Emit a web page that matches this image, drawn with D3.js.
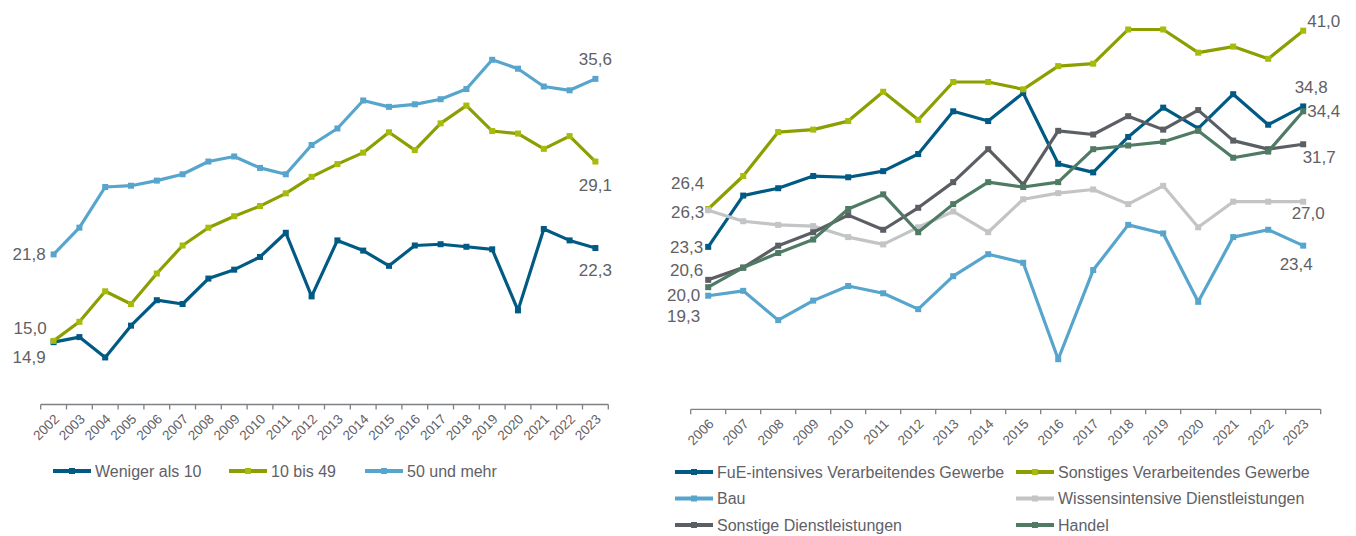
<!DOCTYPE html>
<html lang="de">
<head>
<meta charset="UTF-8">
<title>Anteil nach Größe und Branche</title>
<script src="https://cdn.jsdelivr.net/npm/d3@7/dist/d3.min.js"></script>
<style>
  body { margin: 0; background: #fff; }
  text { font-family: "Liberation Sans", Arial, sans-serif; fill: #5f6166; }
</style>
</head>
<body>
<svg id="canvas" width="1356" height="536"></svg>
<script>
// left chart: Beschäftigtengrößenklassen
let yearsLeft = ['2002','2003','2004','2005','2006','2007','2008','2009','2010','2011','2012',
                 '2013','2014','2015','2016','2017','2018','2019','2020','2021','2022','2023']
let wenigerAls10 = [14.9,15.3,13.7,16.2,18.2,17.9,19.9,20.6,21.6,23.5,18.5,22.9,22.1,20.9,22.5,22.6,22.4,22.2,17.4,23.8,22.9,22.3]
let bis49 = [15.0,16.5,18.9,17.9,20.3,22.5,23.9,24.8,25.6,26.6,27.9,28.9,29.8,31.4,30.0,32.1,33.5,31.5,31.3,30.1,31.1,29.1]
let undMehr50 = [21.8,23.9,27.1,27.2,27.6,28.1,29.1,29.5,28.6,28.1,30.4,31.7,33.9,33.4,33.6,34.0,34.8,37.1,36.4,35.0,34.7,35.6]

// right chart: Branchen
let yearsRight = ['2006','2007','2008','2009','2010','2011','2012','2013','2014',
                  '2015','2016','2017','2018','2019','2020','2021','2022','2023']
let fue = [23.3,27.5,28.1,29.1,29.0,29.5,30.9,34.4,33.6,35.9,30.1,29.4,32.3,34.7,33.0,35.8,33.3,34.8]
let sonstVerarb = [26.4,29.1,32.7,32.9,33.6,36.0,33.7,36.8,36.8,36.2,38.1,38.3,41.1,41.1,39.2,39.7,38.7,41.0]
let bau = [19.3,19.7,17.3,18.9,20.1,19.5,18.2,20.9,22.7,22.0,14.1,21.4,25.1,24.4,18.8,24.1,24.7,23.4]
let wissensDl = [26.3,25.4,25.1,25.0,24.1,23.5,24.9,26.2,24.5,27.2,27.7,28.0,26.8,28.3,24.9,27.0,27.0,27.0]
let sonstDl = [20.6,21.6,23.4,24.5,25.9,24.7,26.5,28.6,31.3,28.4,32.8,32.5,34.0,32.9,34.5,32.0,31.3,31.7]
let handel = [20.0,21.6,22.8,23.9,26.4,27.6,24.5,26.8,28.6,28.2,28.6,31.3,31.6,31.9,32.8,30.6,31.1,34.4]

let svg = d3.select('#canvas')
let fmt = v => d3.format('.1f')(v).replace('.', ',')

let seriesLeft = [
  {name: 'Weniger als 10', values: wenigerAls10, color: '#005a83', marker: '#005a83',
   first: [-8, 15], last: [0, 22]},
  {name: '10 bis 49', values: bis49, color: '#8c9f00', marker: '#a6bb0c',
   first: [-7, -13], last: [0, 24]},
  {name: '50 und mehr', values: undMehr50, color: '#57a5cc', marker: '#57a5cc',
   first: [-8, 0], last: [0, -20]}
]

let seriesRight = [
  {name: 'FuE-intensives Verarbeitendes Gewerbe', values: fue, color: '#005a83', marker: '#005a83',
   first: [-5, 0], last: [8, -19], lastAnchor: 'middle'},
  {name: 'Sonstiges Verarbeitendes Gewerbe', values: sonstVerarb, color: '#8c9f00', marker: '#a6bb0c',
   first: [-4, -26], last: [4, -10], lastAnchor: 'start'},
  {name: 'Bau', values: bau, color: '#57a5cc', marker: '#57a5cc',
   first: [-8, 20], last: [-7, 18], lastAnchor: 'middle'},
  {name: 'Wissensintensive Dienstleistungen', values: wissensDl, color: '#c3c4c6', marker: '#c3c4c6',
   first: [-4, 2], last: [5, 11], lastAnchor: 'middle'},
  {name: 'Sonstige Dienstleistungen', values: sonstDl, color: '#5b5f64', marker: '#5b5f64',
   first: [-5, -10], last: [16, 13], lastAnchor: 'middle'},
  {name: 'Handel', values: handel, color: '#4f7b65', marker: '#4f7b65',
   first: [-8, 8], last: [4, 0], lastAnchor: 'start'}
]

let drawChart = (years, series, xRange, yDomain, yRange) => {
  let x = d3.scaleBand().domain(years).range(xRange)
  let y = d3.scaleLinear().domain(yDomain).range(yRange)
  let cx = d => x(d) + x.bandwidth() / 2
  let g = svg.append('g')
  let axisY = yRange[0]

  // axis line with ticks between the categories
  g.append('line')
    .attr('x1', xRange[0]).attr('x2', xRange[1])
    .attr('y1', axisY).attr('y2', axisY)
    .attr('stroke', '#7d8085').attr('stroke-width', 1.3)
  g.selectAll('.tick')
    .data(years.map(d => x(d)).concat([xRange[1]]))
    .enter().append('line')
    .attr('x1', d => d).attr('x2', d => d)
    .attr('y1', axisY).attr('y2', axisY + 5)
    .attr('stroke', '#7d8085').attr('stroke-width', 1.3)
  g.selectAll('.ticklabel')
    .data(years)
    .enter().append('text')
    .attr('transform', d => `translate(${cx(d) + 3},${axisY + 12}) rotate(-45)`)
    .attr('text-anchor', 'end')
    .attr('dy', '0.35em')
    .style('font-size', '13.5px')
    .text(d => d)

  let line = d3.line().x((v, i) => cx(years[i])).y(v => y(v))

  series.forEach(s => {
    g.append('path')
      .attr('d', line(s.values))
      .attr('fill', 'none')
      .attr('stroke', s.color)
      .attr('stroke-width', 3.2)
      .attr('stroke-linejoin', 'round')
    g.selectAll(null)
      .data(s.values)
      .enter().append('rect')
      .attr('x', (v, i) => cx(years[i]) - 3)
      .attr('y', v => y(v) - 3)
      .attr('width', 6).attr('height', 6)
      .attr('fill', s.marker)
  })

  // value labels at first and last year
  series.forEach(s => {
    let v0 = s.values[0]
    let v1 = s.values[s.values.length - 1]
    g.append('text')
      .attr('x', cx(years[0]) + s.first[0])
      .attr('y', y(v0) + s.first[1])
      .attr('text-anchor', 'end')
      .attr('dy', '0.35em')
      .style('font-size', '17px')
      .text(fmt(v0))
    g.append('text')
      .attr('x', cx(years[years.length - 1]) + s.last[0])
      .attr('y', y(v1) + s.last[1])
      .attr('text-anchor', s.lastAnchor || 'middle')
      .attr('dy', '0.35em')
      .style('font-size', '17px')
      .text(fmt(v1))
  })
}

let drawLegend = (series, positions) => {
  series.forEach((s, i) => {
    let p = positions[i]
    let g = svg.append('g').attr('transform', `translate(${p[0]},${p[1]})`)
    g.append('line')
      .attr('x1', 0).attr('x2', 38)
      .attr('stroke', s.color).attr('stroke-width', 4)
    g.append('rect')
      .attr('x', 16).attr('y', -3).attr('width', 6).attr('height', 6)
      .attr('fill', s.marker)
    g.append('text')
      .attr('x', 42).attr('dy', '0.35em')
      .style('font-size', '16px')
      .text(s.name)
  })
}

drawChart(yearsLeft, seriesLeft, [40.7, 608.3], [10, 40], [404.5, 22.9])
drawChart(yearsRight, seriesRight, [690.7, 1320.7], [10, 41], [409.3, 30.7])

drawLegend(seriesLeft, [[53, 471], [229, 471], [365, 471]])
drawLegend(seriesRight, [[675, 472], [1016, 472], [675, 498.5], [1016, 498.5], [675, 525], [1016, 525]])
</script>
</body>
</html>
